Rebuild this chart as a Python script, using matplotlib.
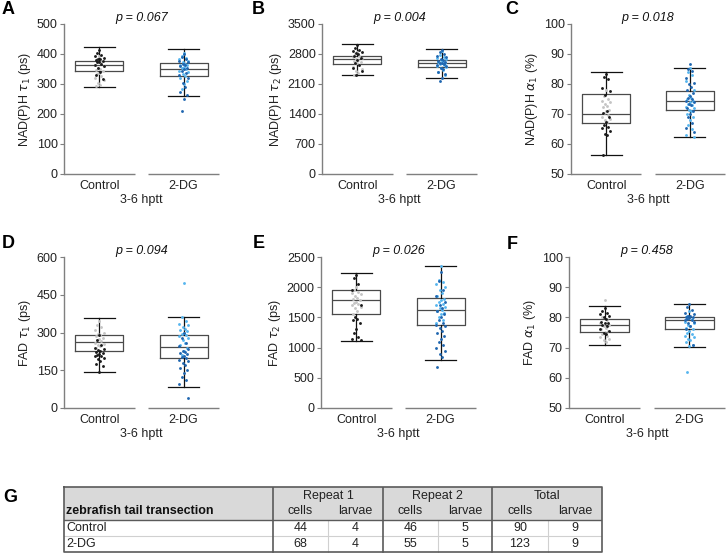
import matplotlib
matplotlib.use("Agg")
import matplotlib.pyplot as plt
import matplotlib.transforms as mtransforms
import numpy as np

plt.rcParams['font.family'] = ['Liberation Sans', 'DejaVu Sans']
plt.rcParams['mathtext.fontset'] = 'dejavusans'

groups = ["Control", "2-DG"]
xlabel = "3-6 hptt"

# ---------------- box statistics ----------------
# order: whislo, q1, med, q3, whishi
A_ctrl_box = [289, 344, 362, 378, 425]
A_dg_box = [259, 326, 349, 371, 418]
B_ctrl_box = [2304, 2568, 2677, 2762, 3026]
B_dg_box = [2250, 2490, 2599, 2669, 2909]
C_ctrl_box = [56.3, 67.1, 70.1, 76.6, 83.9]
C_dg_box = [62.4, 71.4, 74.3, 77.7, 85.4]
D_ctrl_box = [143, 225, 263, 290, 359]
D_dg_box = [83, 200, 244, 289, 363]
E_ctrl_box = [1106, 1553, 1782, 1955, 2235]
E_dg_box = [793, 1369, 1615, 1816, 2346]
F_ctrl_box = [71.0, 75.3, 77.4, 79.4, 83.9]
F_dg_box = [70.2, 76.2, 79.1, 80.2, 84.3]

# ---------------- individual cells (estimated) ----------------
A_ctrl_r1 = [412, 405, 398, 392, 388, 385, 382, 380, 378, 375, 372, 368, 365, 360, 355, 340, 330, 318]
A_ctrl_r2 = [395, 385, 372, 365, 360, 355, 350, 346, 342, 338, 333, 328, 320, 312, 305, 298, 292]
A_dg_r1 = [400, 390, 383, 378, 372, 368, 364, 360, 355, 350, 345, 338, 330, 320, 305, 290, 275, 262, 250, 211]
A_dg_r2 = [405, 395, 388, 382, 376, 372, 368, 365, 362, 358, 354, 350, 345, 340, 335, 328, 320, 310, 300, 285]

B_ctrl_r1 = [3000, 2950, 2900, 2870, 2850, 2830, 2800, 2760, 2700, 2650, 2600, 2550, 2480, 2400, 2320]
B_ctrl_r2 = [2850, 2800, 2760, 2720, 2700, 2680, 2660, 2640, 2620, 2600, 2580, 2550, 2500, 2450, 2400, 2350, 2300]
B_dg_r1 = [2900, 2850, 2800, 2760, 2720, 2690, 2660, 2640, 2620, 2600, 2580, 2560, 2540, 2510, 2480, 2440, 2390, 2330, 2250, 2170]
B_dg_r2 = [2860, 2780, 2730, 2700, 2680, 2660, 2640, 2620, 2600, 2590, 2570, 2550, 2530, 2500, 2470, 2430, 2380, 2300]

C_ctrl_r1 = [83.5, 82.2, 81.8, 78.8, 77.8, 76.5, 71, 70.2, 69, 67.5, 66.3, 65.8, 65.2, 64.5, 63.5, 63, 56.5]
C_ctrl_r2 = [78, 76, 75, 74.5, 74, 73.5, 72.8, 72.2, 71.5, 71, 70.5, 69.8, 69, 68.5, 68, 67.5]
C_dg_r1 = [86.8, 85, 84.5, 82, 80.5, 80, 79, 78, 77, 76, 75.5, 75, 74.5, 74, 73.5, 73, 72, 71, 70, 69, 67, 65.5, 64]
C_dg_r2 = [85.5, 84, 83, 81, 78, 76.5, 75.5, 75, 74.5, 74, 73.5, 73, 72.5, 72, 71.5, 71, 70, 69, 68, 66.5, 65, 63, 62.5]

D_ctrl_r1 = [290, 270, 250, 240, 235, 230, 225, 222, 218, 215, 212, 208, 205, 200, 195, 185, 175, 165, 145]
D_ctrl_r2 = [345, 330, 320, 310, 300, 295, 290, 285, 280, 275, 270, 265, 260, 255, 250, 245, 240]
D_dg_r1 = [300, 280, 260, 245, 235, 228, 222, 218, 213, 208, 203, 198, 192, 185, 178, 170, 160, 150, 140, 125, 110, 95, 41]
D_dg_r2 = [495, 360, 345, 335, 328, 320, 315, 310, 305, 300, 295, 290, 285, 280, 270, 260, 250, 240, 225, 210]

E_ctrl_r1 = [2200, 2150, 2050, 1950, 1700, 1500, 1480, 1460, 1400, 1300, 1250, 1180, 1150, 1120]
E_ctrl_r2 = [2000, 1950, 1920, 1900, 1880, 1850, 1820, 1800, 1780, 1760, 1740, 1720, 1700, 1680, 1650, 1600, 1550]
E_dg_r1 = [2250, 2100, 1950, 1850, 1750, 1700, 1650, 1600, 1550, 1500, 1450, 1400, 1380, 1350, 1320, 1280,
           1240, 1200, 1150, 1100, 1050, 1000, 950, 900, 850, 682]
E_dg_r2 = [2346, 2120, 2080, 2050, 2000, 1950, 1900, 1850, 1800, 1780, 1750, 1720, 1700, 1680, 1650, 1620,
           1600, 1580, 1550, 1500, 1450, 1400]

F_ctrl_r1 = [83, 82, 81.5, 81, 80.5, 80, 79.5, 78.5, 78, 78, 77.5, 77, 76, 75.5, 75, 74.5]
F_ctrl_r2 = [85.8, 80, 79, 78, 77.5, 77, 76.5, 76, 75.5, 75, 74.5, 74, 73.5, 73, 72.5, 72]
F_dg_r1 = [84.3, 83.5, 82.5, 81.5, 81, 80.5, 80.3, 80, 80, 79.8, 79.5, 79.2, 79, 78.5, 78, 77, 76, 71]
F_dg_r2 = [82, 80.5, 79.5, 78.5, 78, 77.5, 77, 76.5, 76, 75.5, 75, 74.5, 74, 73.5, 73, 72.5, 72, 71, 70.5, 62]

# axis settings
A_yticks = [0, 100, 200, 300, 400, 500]
B_yticks = [0, 700, 1400, 2100, 2800, 3500]
C_yticks = [50, 60, 70, 80, 90, 100]
D_yticks = [0, 150, 300, 450, 600]
E_yticks = [0, 500, 1000, 1500, 2000, 2500]
F_yticks = [50, 60, 70, 80, 90, 100]

p_values = ["0.067", "0.004", "0.018", "0.094", "0.026", "0.458"]
ylabels = [r"NAD(P)H $\tau_1$ (ps)", r"NAD(P)H $\tau_2$ (ps)", r"NAD(P)H $\alpha_1$ (%)",
           r"FAD $\tau_1$ (ps)", r"FAD $\tau_2$ (ps)", r"FAD $\alpha_1$ (%)"]
letters = ["A", "B", "C", "D", "E", "F"]

# table
tab_groups = ["Repeat 1", "Repeat 2", "Total"]
tab_sub = ["cells", "larvae"]
tab_title = "zebrafish tail transection"
tab_rows = ["Control", "2-DG"]
tab_ctrl = [44, 4, 46, 5, 90, 9]
tab_dg = [68, 4, 55, 5, 123, 9]

COL_BLACK = "#1a1a1a"
COL_GREY = "#c4c4c4"
COL_DBLUE = "#1f66b0"
COL_LBLUE = "#55b5ef"

W, H = 726, 553
fig = plt.figure(figsize=(W / 100, H / 100), dpi=100)


def fr(x0, y_top, w, h):
    return [x0 / W, 1 - (y_top + h) / H, w / W, h / H]


def to_stats(b):
    return dict(whislo=b[0], q1=b[1], med=b[2], q3=b[3], whishi=b[4], fliers=[])


def offsets(n):
    pat = [0, -1, 1, -2, 2, -0.5, 0.5, -1.5, 1.5]
    return np.array([pat[i % len(pat)] for i in range(n)]) * 0.025


def panel(rect, boxes, series, yticks, ylabel, pval, letter, letter_xy):
    ax = fig.add_axes(fr(*rect))
    ax.set_xlim(-0.42, 1.42)
    ax.set_ylim(yticks[0], yticks[-1])
    ax.bxp([to_stats(b) for b in boxes], positions=[0, 1], widths=0.57, capwidths=0.37,
           showfliers=False,
           boxprops=dict(color="#4a4a4a", lw=0.9),
           medianprops=dict(color="#4a4a4a", lw=0.9),
           whiskerprops=dict(color="#111111", lw=0.9),
           capprops=dict(color="#111111", lw=0.9), zorder=2)
    cols = [(COL_GREY, COL_BLACK), (COL_LBLUE, COL_DBLUE)]
    for gi, (s2, s1) in enumerate(series):
        c2, c1 = cols[gi]
        for vals, c in ((s2, c2), (s1, c1)):
            v = np.asarray(vals, float)
            ax.scatter(gi + offsets(len(v)), v, s=4.2, color=c, lw=0, zorder=3)
    for sp in ["top", "right", "bottom"]:
        ax.spines[sp].set_visible(False)
    ax.spines["left"].set_color("#7f7f7f")
    ax.spines["left"].set_linewidth(1.0)
    trans = mtransforms.blended_transform_factory(ax.transData, ax.transAxes)
    for g in [0, 1]:
        ax.plot([g - 0.42, g + 0.42], [0, 0], transform=trans, color="#7f7f7f", lw=1.0,
                clip_on=False, solid_capstyle="butt")
    ax.set_yticks(yticks)
    ax.set_xticks([0, 1])
    ax.set_xticklabels(groups)
    ax.tick_params(axis="y", length=3, width=0.8, color="#7f7f7f", labelsize=9, pad=1.5,
                   labelcolor="#222222")
    ax.tick_params(axis="x", length=0, labelsize=9, pad=4, labelcolor="#222222")
    ax.set_xlabel(xlabel, fontsize=9, labelpad=2, color="#222222")
    ax.set_ylabel(ylabel, fontsize=9, labelpad=3, color="#222222")
    ax.text(0.5, 1.0, "p = " + pval, transform=trans, ha="center", va="bottom",
            fontsize=9, style="italic", color="#111111")
    fig.text(letter_xy[0] / W, 1 - letter_xy[1] / H, letter, fontsize=13, fontweight="bold",
             ha="left", va="center")
    return ax


row1_top, row1_h = 24, 150
row2_top, row2_h = 257, 151

panel((64, row1_top, 155, row1_h), [A_ctrl_box, A_dg_box], [(A_ctrl_r2, A_ctrl_r1), (A_dg_r2, A_dg_r1)],
      A_yticks, ylabels[0], p_values[0], letters[0], (2, 9))
panel((322, row1_top, 155, row1_h), [B_ctrl_box, B_dg_box], [(B_ctrl_r2, B_ctrl_r1), (B_dg_r2, B_dg_r1)],
      B_yticks, ylabels[1], p_values[1], letters[1], (252, 9))
panel((571, row1_top, 154, row1_h), [C_ctrl_box, C_dg_box], [(C_ctrl_r2, C_ctrl_r1), (C_dg_r2, C_dg_r1)],
      C_yticks, ylabels[2], p_values[2], letters[2], (505, 10))
panel((64, row2_top, 155, row2_h), [D_ctrl_box, D_dg_box], [(D_ctrl_r2, D_ctrl_r1), (D_dg_r2, D_dg_r1)],
      D_yticks, ylabels[3], p_values[3], letters[3], (2, 243))
panel((321, row2_top, 155, row2_h), [E_ctrl_box, E_dg_box], [(E_ctrl_r2, E_ctrl_r1), (E_dg_r2, E_dg_r1)],
      E_yticks, ylabels[4], p_values[4], letters[4], (253, 243))
panel((569, row2_top, 156, row2_h), [F_ctrl_box, F_dg_box], [(F_ctrl_r2, F_ctrl_r1), (F_dg_r2, F_dg_r1)],
      F_yticks, ylabels[5], p_values[5], letters[5], (507, 245))

# ---------------- table G ----------------
fig.text(3 / W, 1 - 498 / H, "G", fontsize=13, fontweight="bold", ha="left", va="center")
tx0, tx1, ty0, ty1 = 64, 602, 487, 552
tax = fig.add_axes([tx0 / W, 1 - (ty1 + 0.5) / H, (tx1 - tx0) / W, (ty1 + 0.5 - ty0) / H])
tax.set_xlim(tx0, tx1)
tax.set_ylim(ty1 + 0.5, ty0)
tax.axis("off")
cols_x = [64, 273, 328, 383, 438, 492, 548, 602]
rows_y = [487, 503, 520, 536, 552]
tfont = ['Liberation Sans Narrow', 'Liberation Sans', 'DejaVu Sans']
tax.add_patch(plt.Rectangle((tx0, ty0), tx1 - tx0, rows_y[2] - ty0, color="#d9d9d9", lw=0, zorder=0))
dark = "#5a5a5a"
light = "#d0d0d0"
for x in cols_x[2:7:2]:
    tax.plot([x, x], [rows_y[2], rows_y[4]], color=light, lw=0.8)
tax.plot([tx0, tx1], [rows_y[3], rows_y[3]], color=light, lw=0.8)
for x in [cols_x[1], cols_x[3], cols_x[5]]:
    tax.plot([x, x], [ty0, ty1], color=dark, lw=1.2)
tax.plot([tx0, tx1], [rows_y[2], rows_y[2]], color=dark, lw=1.0)
tax.plot([tx0, tx1, tx1, tx0, tx0], [ty0, ty0, ty1, ty1, ty0], color=dark, lw=1.2, clip_on=False)
ts = 9
for gi, g in enumerate(tab_groups):
    xc = (cols_x[1 + 2 * gi] + cols_x[3 + 2 * gi]) / 2
    tax.text(xc, (rows_y[0] + rows_y[1]) / 2 + 1, g, ha="center", va="center", fontsize=ts,
             family=tfont, color="#222222")
    for si, s in enumerate(tab_sub):
        xs = (cols_x[1 + 2 * gi + si] + cols_x[2 + 2 * gi + si]) / 2
        tax.text(xs, (rows_y[1] + rows_y[2]) / 2, s, ha="center", va="center", fontsize=ts,
                 family=tfont, color="#222222")
tax.text(tx0 + 2, (rows_y[1] + rows_y[2]) / 2, tab_title, ha="left", va="center", fontsize=ts,
         family=tfont, fontweight="bold", color="#111111")
for ri, (name, vals) in enumerate(zip(tab_rows, [tab_ctrl, tab_dg])):
    yc = (rows_y[2 + ri] + rows_y[3 + ri]) / 2
    tax.text(tx0 + 2, yc, name, ha="left", va="center", fontsize=ts, family=tfont, color="#222222")
    for ci, v in enumerate(vals):
        xs = (cols_x[1 + ci] + cols_x[2 + ci]) / 2
        tax.text(xs, yc, str(v), ha="center", va="center", fontsize=ts, family=tfont, color="#222222")

fig.savefig("out.png", dpi=100)
